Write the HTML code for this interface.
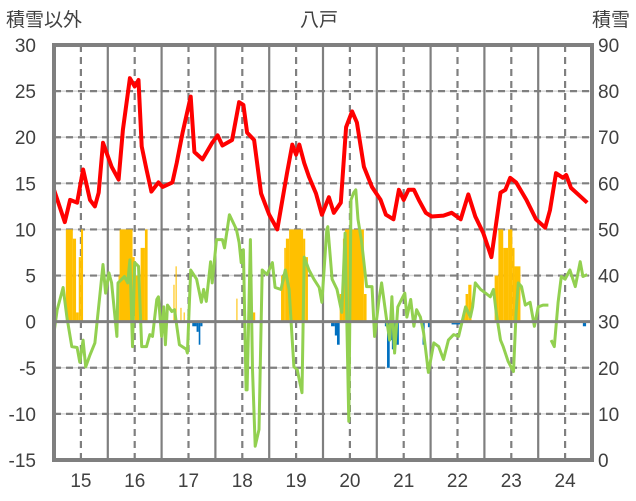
<!DOCTYPE html>
<html><head><meta charset="utf-8">
<style>
html,body{margin:0;padding:0;background:#fff;}
svg{display:block;font-family:"Liberation Sans","Noto Sans CJK JP",sans-serif;}
</style></head>
<body>
<svg id="chart" width="636" height="501" viewBox="0 0 636 501">
<text x="6" y="26" font-size="19" fill="#404040" font-family="Noto Sans CJK JP, sans-serif">積雪以外</text>
<text x="319" y="26" font-size="19" fill="#404040" text-anchor="middle" font-family="Noto Sans CJK JP, sans-serif">八戸</text>
<text x="630" y="26" font-size="19" fill="#404040" text-anchor="end" font-family="Noto Sans CJK JP, sans-serif">積雪</text>
<g id="grid"></g>
<g id="bars"></g>
<g id="lines"></g>
<g id="axes"></g>
</svg>
<script>
const leftTicks=[-15,-10,-5,0,5,10,15,20,25,30];
const rightTicks=[0,10,20,30,40,50,60,70,80,90];
const yearLabels=["15","16","17","18","19","20","21","22","23","24"];
const redT=[15.00,15.20,15.30,15.43,15.54,15.67,15.76,15.83,15.91,16.07,16.20,16.28,16.41,16.50,16.57,16.63,16.72,16.81,16.94,17.02,17.20,17.28,17.39,17.54,17.61,17.76,17.94,18.04,18.13,18.31,18.44,18.52,18.59,18.72,18.85,19.00,19.15,19.33,19.43,19.50,19.56,19.65,19.74,19.87,19.98,20.11,20.20,20.33,20.43,20.54,20.63,20.76,20.91,21.07,21.17,21.31,21.41,21.50,21.59,21.69,21.78,21.91,22.02,22.24,22.39,22.56,22.70,22.83,22.98,23.13,23.30,23.39,23.48,23.59,23.78,23.96,24.13,24.22,24.33,24.46,24.52,24.61,24.80,24.91];
const redV=[14.3,10.8,13.2,12.9,16.5,13.2,12.5,14.0,19.4,16.8,15.4,20.8,26.4,25.5,26.2,19.0,16.5,14.1,15.1,14.6,15.1,17.2,20.5,24.4,18.4,17.6,19.4,20.2,19.1,19.7,23.8,23.5,20.5,19.7,13.9,11.6,10.0,16.1,19.2,18.1,19.2,17.2,15.7,13.9,11.6,13.5,11.8,12.9,21.1,22.8,21.6,16.8,14.6,13.2,11.6,11.1,14.3,13.2,14.3,14.3,13.2,11.8,11.4,11.5,11.8,11.1,13.8,11.4,9.6,7.0,14.0,14.3,15.6,15.1,13.2,11.1,10.2,12.1,16.1,15.6,15.9,14.5,13.5,12.9];
const greenT=[15.00,15.06,15.17,15.24,15.33,15.43,15.48,15.54,15.59,15.67,15.76,15.85,15.91,15.96,16.02,16.07,16.17,16.19,16.31,16.37,16.41,16.46,16.50,16.57,16.63,16.72,16.78,16.83,16.91,16.94,17.00,17.04,17.07,17.11,17.19,17.24,17.33,17.46,17.48,17.54,17.65,17.74,17.78,17.83,17.91,17.94,18.02,18.13,18.17,18.26,18.39,18.44,18.48,18.52,18.57,18.59,18.65,18.69,18.74,18.81,18.87,18.96,19.06,19.11,19.22,19.30,19.37,19.46,19.52,19.61,19.65,19.74,19.83,19.93,19.98,20.07,20.09,20.17,20.26,20.35,20.41,20.48,20.52,20.57,20.61,20.65,20.72,20.81,20.91,20.96,21.04,21.09,21.19,21.24,21.28,21.33,21.39,21.46,21.52,21.56,21.63,21.69,21.74,21.81,21.87,21.96,22.06,22.15,22.24,22.33,22.43,22.52,22.65,22.74,22.78,22.83,22.93,23.02,23.11,23.17,23.22,23.30,23.35,23.44,23.54,23.59,23.63,23.69,23.76,23.85,23.93,24.00,24.09,24.19,24.21,24.24,24.30,24.37,24.43,24.50,24.59,24.69,24.78,24.83,24.91];
const greenV=[-1.2,1.3,3.7,0.5,-2.7,-2.8,-4.4,-2.0,-4.9,-3.6,-2.3,2.7,6.2,3.1,5.3,4.2,-1.6,4.2,4.9,4.2,6.7,-2.7,6.4,6.0,-2.7,-2.7,-1.4,-1.6,2.4,2.7,-1.6,1.6,-2.5,1.8,1.1,1.3,-2.5,-3.0,-3.4,5.6,4.6,2.1,3.5,2.2,6.5,4.2,8.9,8.9,8.0,11.6,10.0,8.6,6.4,7.8,-7.4,-7.4,8.9,-5.2,-13.5,-11.7,5.6,5.1,6.4,3.7,3.5,5.6,3.5,-4.9,-5.2,-7.7,7.0,5.6,4.6,3.7,2.1,10.0,10.3,4.6,3.5,1.0,9.6,-10.8,13.2,14.0,14.3,11.1,8.6,3.8,3.8,-1.6,2.4,4.2,-0.1,-2.0,2.7,-3.4,1.6,2.4,3.1,0.5,2.4,-0.5,1.3,0.5,-1.2,-5.5,-2.3,-2.7,-4.1,-2.0,-1.4,-1.6,1.6,0.5,1.6,4.2,3.5,3.1,2.7,3.5,1.0,-2.0,-2.7,-4.3,-5.4,1.0,4.2,3.8,1.8,2.1,-0.5,1.6,1.8,1.8,null,-2.0,-2.7,2.1,4.9,4.6,5.6,3.8,6.5,4.9,5.1];
const orangeStart=[15.22,15.35,15.41,15.46,15.50,16.20,16.22,16.46,16.50,16.61,16.69,17.22,17.26,17.35,17.41,18.39,18.69,19.22,19.28,19.31,19.37,19.63,19.67,20.31,20.37,20.41,20.76,22.61,22.65,22.70,23.19,23.26,23.35,23.44,23.52,23.56];
const orangeEnd=[15.35,15.41,15.46,15.50,15.54,16.22,16.46,16.50,16.61,16.69,16.74,17.24,17.28,17.37,17.43,18.41,18.74,19.28,19.31,19.37,19.63,19.67,19.72,20.37,20.41,20.76,20.81,22.65,22.70,22.76,23.26,23.35,23.44,23.52,23.56,23.67];
const orangeV=[10,9,1,7,10,5,10,7,5,8,10,4,6,1.5,1,2.5,1,5,8,9,10,9,7,3,9,10,3,1,3,4,5,10,8,10,8,6];
const blueStart=[17.57,17.65,17.69,17.72,20.15,20.22,20.26,21.15,21.19,21.24,21.28,21.33,21.85,21.95,22.39,24.83];
const blueEnd=[17.65,17.69,17.72,17.76,20.22,20.26,20.31,21.19,21.24,21.28,21.33,21.41,21.89,21.98,22.57,24.89];
const blueV=[-0.5,-1.1,-2.5,-0.5,-0.5,-1.5,-2.5,-0.5,-5,-2,-3,-2.5,-2.5,-0.6,-0.3,-0.5];

const L=54,R=592,T=45,B=460;
const X=t=>L+(t-15)*(R-L)/10;
const Y=v=>B-(v+15)*(B-T)/45;
const NS="http://www.w3.org/2000/svg";
function mk(tag,attrs,parent){const e=document.createElementNS(NS,tag);for(const k in attrs)e.setAttribute(k,attrs[k]);parent.appendChild(e);return e;}
const grid=document.getElementById('grid'),bars=document.getElementById('bars'),lines=document.getElementById('lines'),axes=document.getElementById('axes');
leftTicks.forEach((v,i)=>{
  if(v>-15&&v<30&&v!==0){
    const g=mk('line',{x1:L,x2:R,y1:Y(v),y2:Y(v),stroke:'#d9d9d9','stroke-width':1.5},grid);
    
    
    const d=mk('line',{x1:L,x2:R,y1:Y(v),y2:Y(v),stroke:'#7f7f7f','stroke-width':2.2,'stroke-dasharray':'7,5'},grid);
    
    
  }
  const lt=mk('text',{x:36,y:Y(v)+7,'font-size':19,fill:'#404040','text-anchor':'end'},axes);
  lt.textContent=v;
  
  
  const rt=mk('text',{x:598,y:Y(v)+7,'font-size':19,fill:'#404040'},axes);
  rt.textContent=rightTicks[i];
  
  
});
yearLabels.forEach((lab,i)=>{
  const t=15+i;
  if(i>0){
    const s=mk('line',{x1:X(t),x2:X(t),y1:T,y2:B,stroke:'#7f7f7f','stroke-width':2.2},grid);
    
    
  }
  const d=mk('line',{x1:X(t+0.5),x2:X(t+0.5),y1:T,y2:B,stroke:'#7f7f7f','stroke-width':2.2,'stroke-dasharray':'7,5'},grid);
  
  
  const tx=mk('text',{x:X(t+0.5),y:487,'font-size':19,fill:'#404040','text-anchor':'middle'},axes);
  tx.textContent=lab;
  
  
});
orangeV.forEach((v,i)=>{
  const r=mk('rect',{x:X(orangeStart[i]),width:X(orangeEnd[i])-X(orangeStart[i]),y:Y(v),height:Y(0)-Y(v),fill:'#ffc000'},bars);
  
  
});
blueV.forEach((v,i)=>{
  const r=mk('rect',{x:X(blueStart[i]),width:X(blueEnd[i])-X(blueStart[i]),y:Y(0),height:Y(v)-Y(0),fill:'#0070c0'},bars);
  
  
});
const z=mk('line',{x1:L,x2:R,y1:Y(0),y2:Y(0),stroke:'#7f7f7f','stroke-width':3},axes);


function path(ts,vs){let d='',pen=false;ts.forEach((t,i)=>{const v=vs[i];if(v===null){pen=false;return;}d+=(pen?'L':'M')+X(t).toFixed(1)+','+Y(v).toFixed(1);pen=true;});return d;}
const gp=mk('path',{d:path(greenT,greenV),fill:'none',stroke:'#92d050','stroke-width':3,'stroke-linejoin':'round'},lines);


const rp=mk('path',{d:path(redT,redV),fill:'none',stroke:'#ff0000','stroke-width':4,'stroke-linejoin':'round'},lines);


const fr=mk('rect',{x:L,y:T,width:R-L,height:B-T,fill:'none',stroke:'#7f7f7f','stroke-width':4},axes);


</script>
</body></html>
